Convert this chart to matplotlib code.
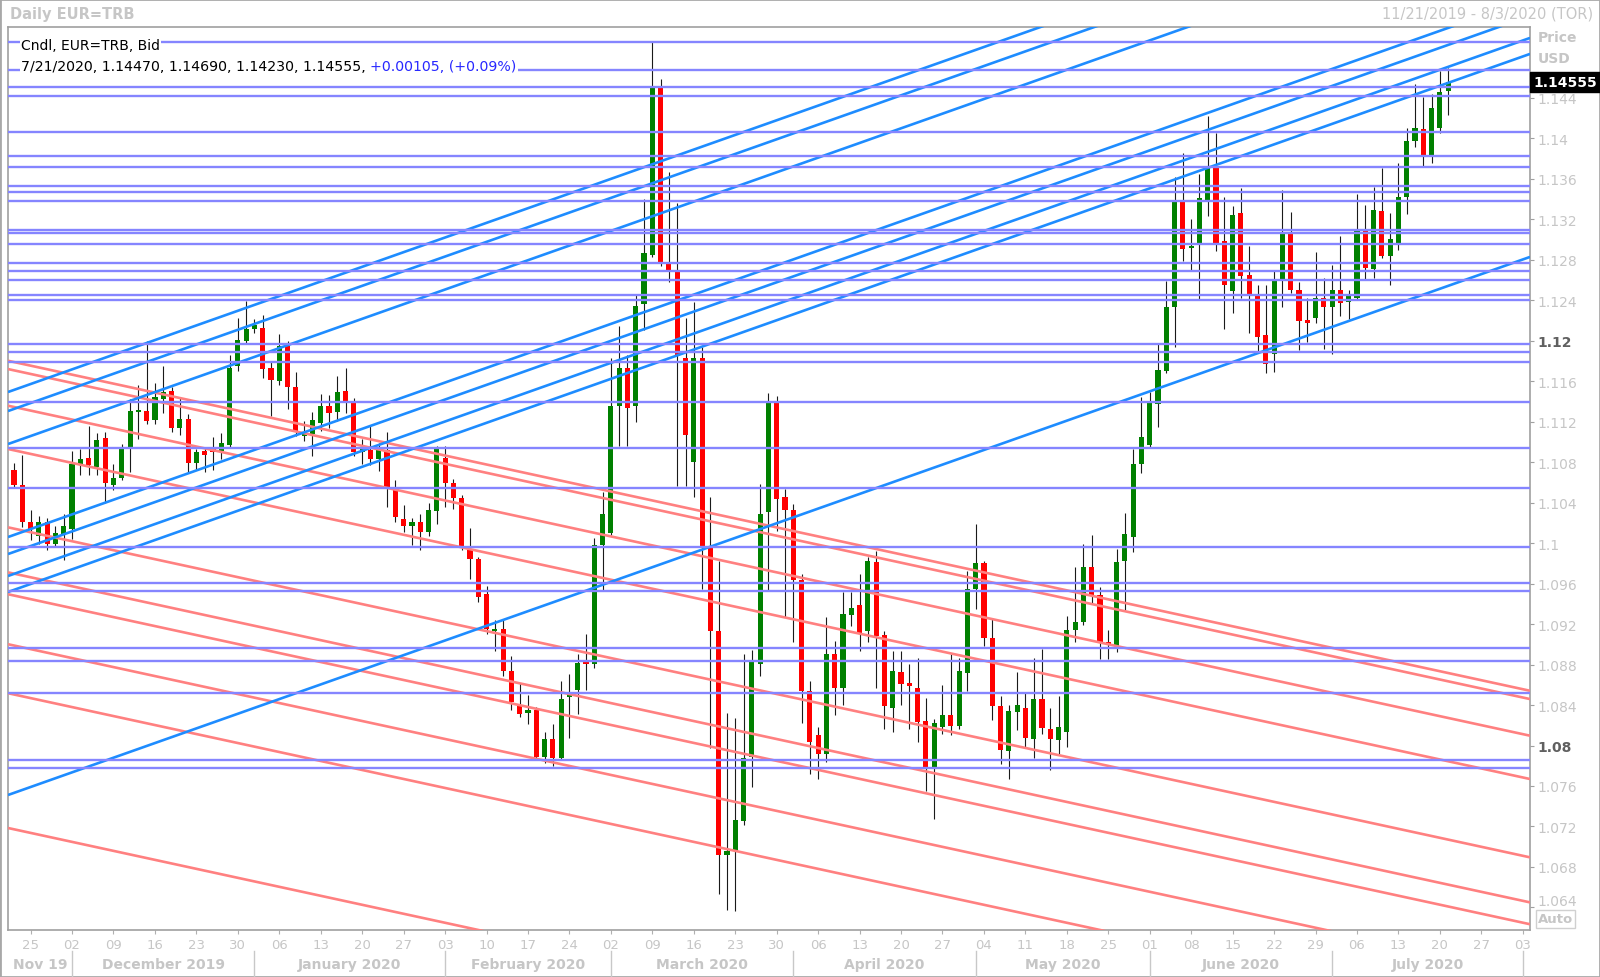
import numpy as np
import pandas as pd
import matplotlib
matplotlib.use("Agg")
import matplotlib.pyplot as plt
import matplotlib.transforms as mtransforms
from matplotlib.patches import Rectangle
from matplotlib.lines import Line2D

plt.rcParams['font.family'] = ['DejaVu Sans']

# trading days shown as candles, and the full axis range
dates = pd.bdate_range("2019-11-21", "2020-07-21")
axis_days = pd.bdate_range("2019-11-21", "2020-08-03")

opens = [1.1072, 1.1057,
         1.1021, 1.1007, 1.1021, 1.0999, 1.1009,
         1.1014, 1.1078, 1.1084, 1.1075, 1.1104,
         1.1057, 1.1064, 1.1095, 1.1130, 1.1131,
         1.1122, 1.1142, 1.1150, 1.1114, 1.1123,
         1.1079, 1.1091, 1.1093, 1.1091, 1.1097,
         1.1175, 1.1200, 1.1212, 1.1213, 1.1173,
         1.1160, 1.1195, 1.1154, 1.1106, 1.1108,
         1.1119, 1.1135, 1.1130, 1.1150, 1.1139,
         1.1090, 1.1092, 1.1083, 1.1092, 1.1055,
         1.1024, 1.1017, 1.1021, 1.1011, 1.1032,
         1.1084, 1.1059, 1.1045, 1.0993, 1.0984,
         1.0950, 1.0913, 1.0915, 1.0874, 1.0840,
         1.0832, 1.0835, 1.0789, 1.0806, 1.0788,
         1.0848, 1.0855, 1.0884, 1.0881, 1.0998,
         1.1010, 1.1135, 1.1173, 1.1135, 1.1236,
         1.1285, 1.1450, 1.1278, 1.1268, 1.1183,
         1.1080, 1.1183, 1.0997, 1.0913, 1.0692,
         1.0696, 1.0725, 1.0789, 1.0881, 1.1031,
         1.1138, 1.1046, 1.1033, 1.0964, 1.0854,
         1.0810, 1.0792, 1.0890, 1.0857, 1.0929,
         1.0939, 1.0913, 1.0981, 1.0909, 1.0837,
         1.0873, 1.0862, 1.0857, 1.0824, 1.0779,
         1.0818, 1.0830, 1.0819, 1.0872, 1.0955,
         1.0980, 1.0906, 1.0839, 1.0795, 1.0833,
         1.0837, 1.0806, 1.0846, 1.0816, 1.0805,
         1.0813, 1.0914, 1.0922, 1.0976, 1.0949,
         1.0902, 1.0898, 1.0982, 1.1006, 1.1078,
         1.1097, 1.1137, 1.1170, 1.1233, 1.1337,
         1.1292, 1.1296, 1.1339, 1.1371, 1.1299,
         1.1249, 1.1326, 1.1265, 1.1244, 1.1206,
         1.1187, 1.1260, 1.1305, 1.1250, 1.1220,
         1.1222, 1.1242, 1.1233, 1.1250, 1.1238,
         1.1242, 1.1308, 1.1271, 1.1328, 1.1284,
         1.1297, 1.1342, 1.1397, 1.1409, 1.1384,
         1.1410, 1.1447]

highs = [1.1079, 1.1087,
         1.1033, 1.1027, 1.1025, 1.1017, 1.1029,
         1.1091, 1.1093, 1.1116, 1.1109, 1.1110,
         1.1078, 1.1098, 1.1142, 1.1156, 1.1200,
         1.1158, 1.1175, 1.1154, 1.1144, 1.1128,
         1.1093, 1.1095, 1.1105, 1.1109, 1.1186,
         1.1222, 1.1239, 1.1221, 1.1225, 1.1180,
         1.1207, 1.1200, 1.1169, 1.1121, 1.1130,
         1.1147, 1.1146, 1.1165, 1.1173, 1.1143,
         1.1103, 1.1116, 1.1099, 1.1110, 1.1062,
         1.1038, 1.1025, 1.1029, 1.1040, 1.1096,
         1.1096, 1.1063, 1.1048, 1.1015, 1.0986,
         1.0958, 1.0924, 1.0924, 1.0888, 1.0862,
         1.0850, 1.0838, 1.0813, 1.0821, 1.0864,
         1.0871, 1.0890, 1.0910, 1.1005, 1.1051,
         1.1183, 1.1215, 1.1186, 1.1246, 1.1340,
         1.1495, 1.1459, 1.1367, 1.1336, 1.1222,
         1.1238, 1.1194, 1.1046, 1.0982, 1.0832,
         1.0827, 1.0890, 1.0894, 1.1058, 1.1148,
         1.1145, 1.1053, 1.1039, 1.0969, 1.0864,
         1.0818, 1.0927, 1.0903, 1.0952, 1.0952,
         1.0969, 1.0986, 1.0992, 1.0913, 1.0893,
         1.0893, 1.0881, 1.0886, 1.0847, 1.0826,
         1.0860, 1.0890, 1.0886, 1.0972, 1.1019,
         1.0982, 1.0926, 1.0849, 1.0840, 1.0873,
         1.0852, 1.0886, 1.0895, 1.0837, 1.0849,
         1.0928, 1.0976, 1.0999, 1.1008, 1.0957,
         1.0914, 1.0994, 1.1030, 1.1093, 1.1144,
         1.1149, 1.1197, 1.1259, 1.1362, 1.1385,
         1.1320, 1.1365, 1.1422, 1.1405, 1.1342,
         1.1333, 1.1351, 1.1294, 1.1255, 1.1255,
         1.1270, 1.1349, 1.1327, 1.1258, 1.1242,
         1.1288, 1.1262, 1.1275, 1.1303, 1.1250,
         1.1345, 1.1334, 1.1352, 1.1371, 1.1326,
         1.1376, 1.1410, 1.1454, 1.1441, 1.1444,
         1.1467, 1.1469]

lows = [1.1054, 1.1016,
        1.1003, 1.0999, 1.0993, 1.0997, 1.0983,
        1.1004, 1.1067, 1.1067, 1.1067, 1.1040,
        1.1052, 1.1062, 1.1070, 1.1103, 1.1118,
        1.1118, 1.1129, 1.1110, 1.1107, 1.1070,
        1.1072, 1.1070, 1.1072, 1.1083, 1.1095,
        1.1170, 1.1198, 1.1208, 1.1163, 1.1126,
        1.1156, 1.1133, 1.1106, 1.1101, 1.1086,
        1.1111, 1.1114, 1.1121, 1.1129, 1.1086,
        1.1078, 1.1077, 1.1071, 1.1036, 1.1021,
        1.1011, 1.0998, 1.0993, 1.1007, 1.1019,
        1.1036, 1.1034, 1.0993, 1.0965, 1.0942,
        1.0910, 1.0893, 1.0869, 1.0835, 1.0828,
        1.0821, 1.0788, 1.0783, 1.0780, 1.0786,
        1.0807, 1.0831, 1.0855, 1.0877, 1.0953,
        1.1008, 1.1096, 1.1096, 1.1120, 1.1211,
        1.1283, 1.1274, 1.1258, 1.1056, 1.1056,
        1.1046, 1.0955, 1.0798, 1.0653, 1.0637,
        1.0636, 1.0721, 1.0759, 1.0869, 1.0954,
        1.1012, 1.0927, 1.0902, 1.0822, 1.0772,
        1.0767, 1.0784, 1.0830, 1.0840, 1.0918,
        1.0893, 1.0902, 1.0857, 1.0816, 1.0813,
        1.0840, 1.0816, 1.0803, 1.0755, 1.0727,
        1.0811, 1.0810, 1.0816, 1.0854, 1.0935,
        1.0898, 1.0825, 1.0782, 1.0767, 1.0815,
        1.0799, 1.0788, 1.0811, 1.0776, 1.0791,
        1.0799, 1.0902, 1.0919, 1.0941, 1.0885,
        1.0885, 1.0892, 1.0934, 1.0991, 1.1069,
        1.1095, 1.1115, 1.1168, 1.1194, 1.1279,
        1.1270, 1.1241, 1.1323, 1.1289, 1.1212,
        1.1227, 1.1242, 1.1208, 1.1189, 1.1168,
        1.1169, 1.1233, 1.1247, 1.1191, 1.1199,
        1.1218, 1.1192, 1.1187, 1.1224, 1.1221,
        1.1240, 1.1261, 1.1262, 1.1282, 1.1255,
        1.1290, 1.1325, 1.1391, 1.1373, 1.1376,
        1.1405, 1.1423]

closes = [1.1057, 1.1021,
          1.1014, 1.1021, 1.0999, 1.1010, 1.1017,
          1.1078, 1.1083, 1.1077, 1.1102, 1.1059,
          1.1064, 1.1093, 1.1131, 1.1131, 1.1121,
          1.1144, 1.1149, 1.1114, 1.1123, 1.1079,
          1.1090, 1.1087, 1.1090, 1.1099, 1.1173,
          1.1201, 1.1212, 1.1216, 1.1172, 1.1161,
          1.1195, 1.1154, 1.1110, 1.1109, 1.1122,
          1.1135, 1.1129, 1.1149, 1.1140, 1.1090,
          1.1093, 1.1083, 1.1092, 1.1055, 1.1026,
          1.1017, 1.1021, 1.1011, 1.1033, 1.1093,
          1.1059, 1.1045, 1.0996, 1.0984, 1.0947,
          1.0915, 1.0915, 1.0874, 1.0843, 1.0831,
          1.0835, 1.0789, 1.0806, 1.0788, 1.0846,
          1.0851, 1.0882, 1.0881, 1.0998, 1.1029,
          1.1135, 1.1173, 1.1134, 1.1234, 1.1287,
          1.1450, 1.1278, 1.1270, 1.1185, 1.1107,
          1.1183, 1.0996, 1.0913, 1.0692, 1.0696,
          1.0726, 1.0788, 1.0883, 1.1029, 1.1138,
          1.1044, 1.1033, 1.0964, 1.0854, 1.0803,
          1.0792, 1.0890, 1.0857, 1.0930, 1.0936,
          1.0910, 1.0982, 1.0908, 1.0839, 1.0874,
          1.0861, 1.0859, 1.0823, 1.0779, 1.0822,
          1.0830, 1.0819, 1.0874, 1.0955, 1.0980,
          1.0906, 1.0839, 1.0796, 1.0834, 1.0840,
          1.0807, 1.0846, 1.0817, 1.0806, 1.0818,
          1.0914, 1.0922, 1.0976, 1.0949, 1.0902,
          1.0900, 1.0981, 1.1009, 1.1078, 1.1105,
          1.1138, 1.1171, 1.1233, 1.1337, 1.1291,
          1.1294, 1.1341, 1.1371, 1.1296, 1.1255,
          1.1324, 1.1264, 1.1244, 1.1204, 1.1177,
          1.1259, 1.1305, 1.1250, 1.1219, 1.1218,
          1.1242, 1.1233, 1.1250, 1.1237, 1.1244,
          1.1308, 1.1272, 1.1329, 1.1284, 1.1301,
          1.1342, 1.1397, 1.1410, 1.1384, 1.1430,
          1.1446, 1.14555]

# horizontal levels
levels = [1.14955, 1.14678, 1.14504, 1.14415, 1.14059, 1.13822, 1.13719,
          1.13532, 1.13466, 1.13380, 1.13094, 1.13061, 1.12956, 1.12768,
          1.12689, 1.12597, 1.12455, 1.12399, 1.11967, 1.11885, 1.11787,
          1.11391, 1.10940, 1.10544, 1.09959, 1.09606, 1.09530, 1.08963,
          1.08832, 1.08516, 1.07860, 1.07781]

# rising trend lines: price at left edge / right edge of the plot
rise_left = [1.11493, 1.11305, 1.10979, 1.10060, 1.09892, 1.09675, 1.09517, 1.07511]
rise_right = [1.16810, 1.16622, 1.16296, 1.15377, 1.15209, 1.14992, 1.14834, 1.12828]

# falling trend lines
fall_left = [1.11802, 1.11720, 1.11358, 1.10930, 1.10156, 1.09711, 1.09495,
             1.09001, 1.08517, 1.07185]
fall_right = [1.08541, 1.08459, 1.08097, 1.07669, 1.06895, 1.06450, 1.06234,
              1.05740, 1.05256, 1.03924]

month_names = ["Nov 19", "December 2019", "January 2020", "February 2020",
               "March 2020", "April 2020", "May 2020", "June 2020", "July 2020"]

W, H = 1600, 978
LIGHT = "#c6c6c6"
fig = plt.figure(figsize=(16, 9.78), dpi=100)
ax = fig.add_axes([8 / W, 1 - 930.7 / H, 1522 / W, (930.7 - 28) / H])

x0, x1 = -0.726, 182.87
ax.set_xlim(x0, x1)
ax.set_ylim(1.0618, 1.1510)

o, h, l, c = map(np.array, (opens, highs, lows, closes))
x = np.arange(len(o))
up = c >= o
ax.vlines(x, l, h, color="#1a1a1a", lw=0.8, zorder=2)
ax.bar(x, np.maximum(np.abs(c - o), 0.00012), bottom=np.minimum(o, c), width=0.62,
       color=np.where(up, "#008000", "#ff0000"), zorder=3)

for a, b in zip(fall_left, fall_right):
    ax.plot([x0, x1], [a, b], color="#ff8080", lw=1.9, zorder=4, solid_capstyle="butt")
for a, b in zip(rise_left, rise_right):
    ax.plot([x0, x1], [a, b], color="#1e8cff", lw=1.9, zorder=4, solid_capstyle="butt")
for v in levels:
    ax.axhline(v, color="#8585ff", lw=1.7, zorder=5)

# axes frame
for s in ax.spines.values():
    s.set_color("#a0a0a0")
    s.set_linewidth(1.2)

# y axis on the right
ax.yaxis.tick_right()
yt = np.arange(1.064, 1.1441, 0.004)
ax.set_yticks(yt)
ax.set_yticklabels([f"{v:.3f}".rstrip("0").rstrip(".") for v in yt])
ax.tick_params(axis="y", colors="#a0a0a0", labelcolor=LIGHT, labelsize=10, length=3, pad=2)
for lab in ax.get_yticklabels():
    if lab.get_text() in ("1.08", "1.12"):
        lab.set_fontweight("bold")
        lab.set_color("#606060")
    if lab.get_text() == "1.064":
        # nudged up to clear the "Auto" box
        lab.set_transform(lab.get_transform() +
                          mtransforms.ScaledTranslation(0, 8 / 100, fig.dpi_scale_trans))

# x axis: Mondays
mondays = [i for i, d in enumerate(axis_days) if d.weekday() == 0]
ax.set_xticks(mondays)
ax.set_xticklabels([axis_days[i].strftime("%d") for i in mondays])
ax.tick_params(axis="x", colors="#b0b0b0", labelcolor=LIGHT, labelsize=9.5, length=3, pad=3)

# month row
blend = mtransforms.blended_transform_factory(ax.transData, fig.transFigure)
periods = axis_days.to_period("M")
starts = [i for i in range(1, len(axis_days)) if periods[i] != periods[i - 1]]
bounds = [x0] + starts
for s in starts:
    fig.add_artist(Line2D([s, s], [1 - 952 / H, 1 - 977 / H], transform=blend,
                          color="#c8c8c8", lw=1))
for k, name in enumerate(month_names):
    mid = (bounds[k] + bounds[k + 1]) / 2
    fig.text(mid, 1 - 965 / H, name, transform=blend, ha="center", va="center",
             fontsize=10, fontweight="bold", color=LIGHT)

# header texts
fig.text(10 / W, 1 - 14 / H, "Daily EUR=TRB", fontsize=10.5, fontweight="bold",
         color=LIGHT, va="center")
fig.text(1593 / W, 1 - 14 / H, "11/21/2019 - 8/3/2020 (TOR)", fontsize=10.5,
         color=LIGHT, va="center", ha="right")
fig.text(1538 / W, 1 - 38 / H, "Price", fontsize=10, fontweight="bold", color=LIGHT, va="center")
fig.text(1538 / W, 1 - 59 / H, "USD", fontsize=10, fontweight="bold", color=LIGHT, va="center")

# last price box
ytr = mtransforms.blended_transform_factory(fig.transFigure, ax.transData)
fig.text(1533 / W, closes[-1], "1.14555", transform=ytr, fontsize=10, fontweight="bold",
         color="white", va="center", ha="left",
         bbox=dict(facecolor="black", edgecolor="black", pad=2.0))

fig.text(1538 / W, 1 - 920 / H, "Auto", fontsize=9.5, fontweight="bold", color=LIGHT,
         va="center", bbox=dict(facecolor="white", edgecolor="#d0d0d0", pad=1.5))

# legend lines
fig.text(21 / W, 1 - 46 / H, "Cndl, EUR=TRB, Bid", fontsize=10, color="black", va="center",
         bbox=dict(facecolor="white", edgecolor="none", pad=0.8), zorder=10)
t1 = fig.text(21 / W, 1 - 67 / H, "7/21/2020, 1.14470, 1.14690, 1.14230, 1.14555, ",
              fontsize=10.2, color="black", va="center",
              bbox=dict(facecolor="white", edgecolor="none", pad=0.8), zorder=10)
fig.canvas.draw()
bb = t1.get_window_extent()
fig.text(bb.x1 / W, 1 - 67 / H, "+0.00105, (+0.09%)", fontsize=10.2, color="#2828ff",
         va="center", bbox=dict(facecolor="white", edgecolor="none", pad=0.8), zorder=10)

fig.add_artist(Rectangle((0, 0), 1, 1, transform=fig.transFigure, fill=False,
                         edgecolor="#a8a8a8", lw=2))

fig.savefig("out.png", dpi=100, facecolor="white")
